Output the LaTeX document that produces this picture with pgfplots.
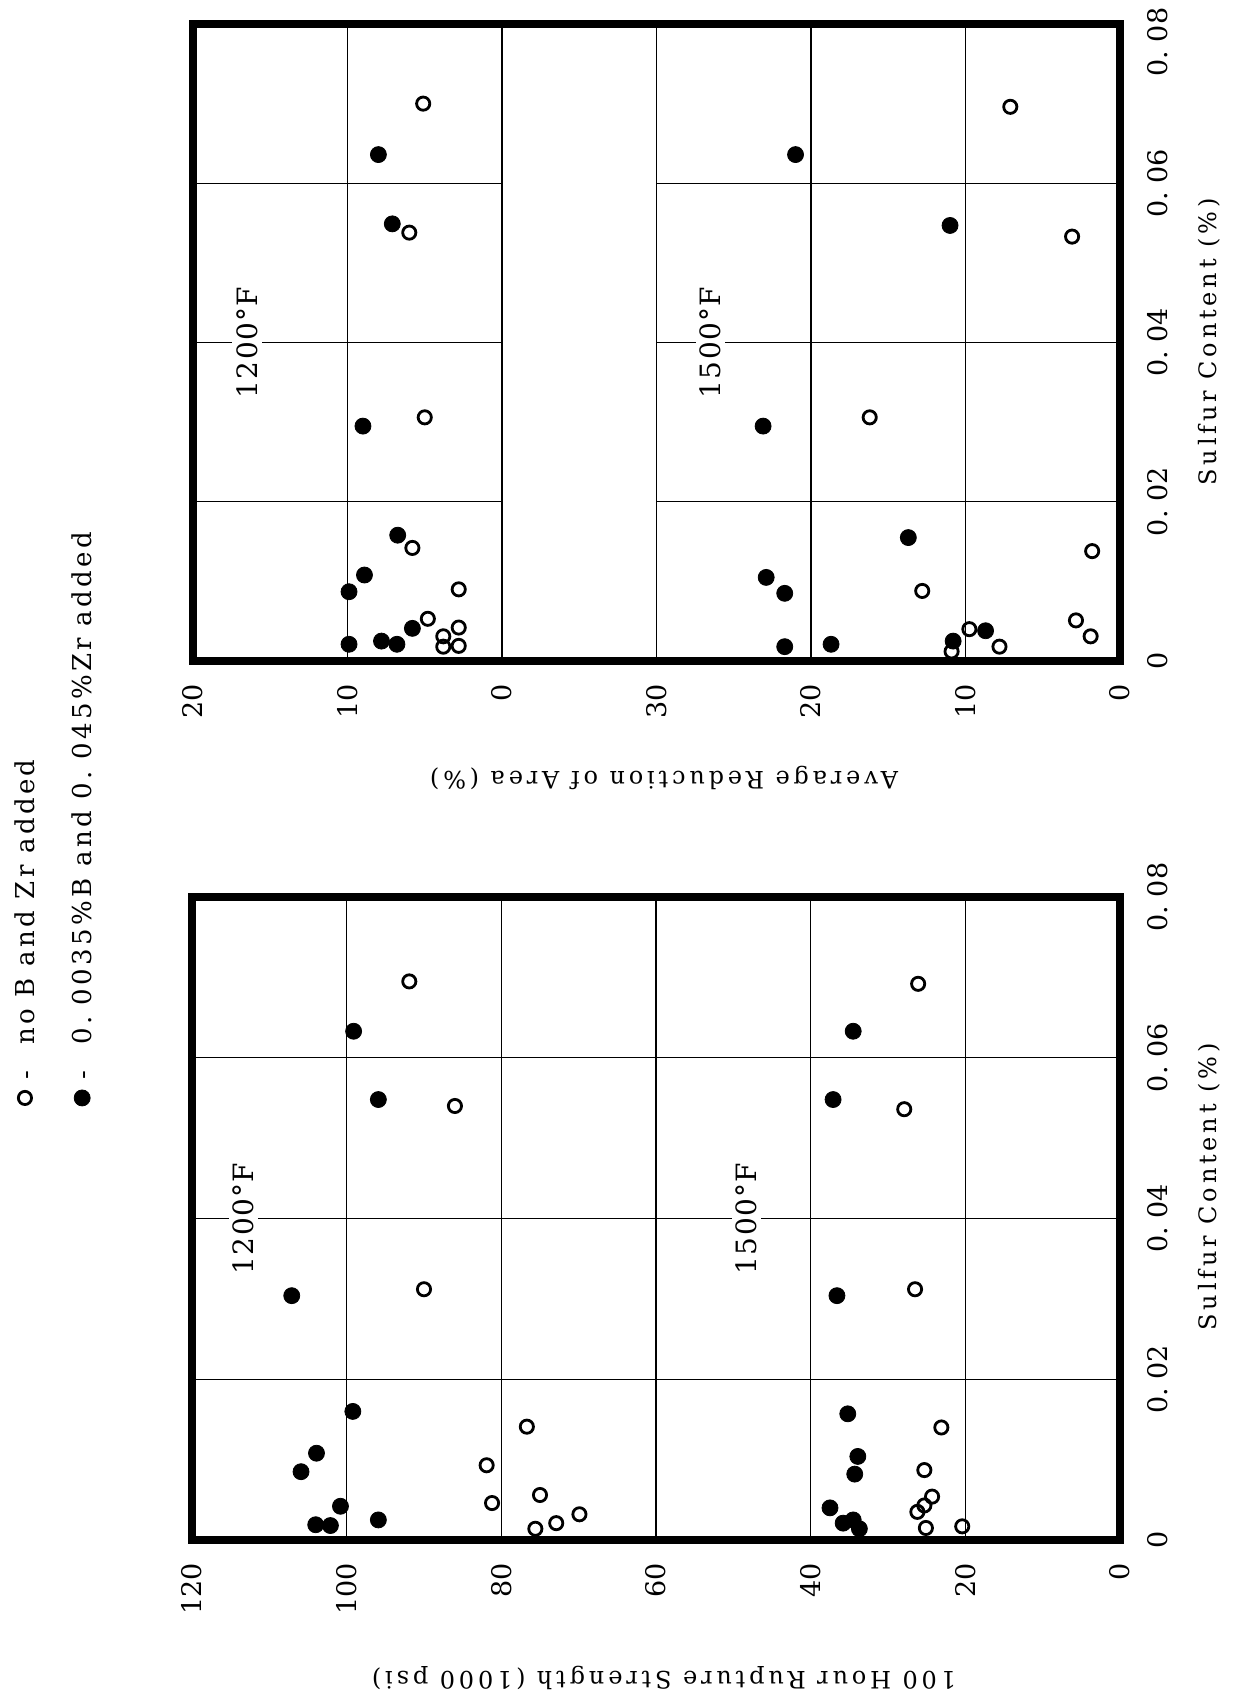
\documentclass[border=0pt]{standalone}
\usepackage{pgfplots}
\pgfplotsset{compat=1.18}
\usepackage{pgfplotstable}
\usepackage{fontspec}
\setmainfont{DejaVu Serif}
\newfontfamily\lblfont[LetterSpace=16]{DejaVu Serif}
\newfontfamily\legfont[LetterSpace=13]{DejaVu Serif}
\newfontfamily\tfont[LetterSpace=5]{DejaVu Serif}

% ---------- strength panel data (strength in 1000 psi, sulfur %) ----------
\pgfplotstableread{
st s
99.2 0.0160
103.9 0.0108
105.9 0.0085
100.8 0.0042
104.0 0.0019
102.1 0.0018
95.9 0.0025
99.1 0.0633
95.9 0.0548
107.1 0.0304
35.2 0.0157
33.9 0.0104
34.3 0.0082
37.5 0.0040
35.8 0.0021
34.5 0.0025
33.7 0.0014
34.5 0.0633
37.1 0.0548
36.6 0.0304
}\strFilled
\pgfplotstableread{
st s
76.7 0.0141
81.9 0.0093
81.2 0.0046
75.0 0.0056
69.9 0.0032
72.9 0.0021
75.6 0.0014
91.9 0.0695
86.0 0.0540
90.0 0.0312
23.1 0.0140
25.3 0.0087
24.3 0.0054
25.3 0.0043
26.2 0.0035
25.1 0.0015
20.4 0.0017
26.1 0.0692
27.9 0.0536
26.5 0.0312
}\strOpen
% ---------- reduction of area data (RA %, sulfur %) ----------
\pgfplotstableread{
ra s
6.75 0.0158
8.9 0.0108
9.9 0.0087
5.8 0.0041
7.8 0.0025
6.8 0.0021
9.9 0.0021
8.0 0.0636
7.1 0.0549
9.0 0.0295
}\raAFilled
\pgfplotstableread{
ra s
5.8 0.0142
2.8 0.0090
4.8 0.0053
2.8 0.0042
3.8 0.0031
3.8 0.0018
2.8 0.0019
5.1 0.0700
6.0 0.0538
5.0 0.0306
}\raAOpen
\pgfplotstableread{
ra s
13.7 0.0155
22.9 0.0105
21.7 0.0085
21.7 0.0018
18.7 0.0021
8.7 0.0038
10.8 0.0025
21.0 0.0636
11.0 0.0547
23.1 0.0295
}\raBFilled
\pgfplotstableread{
ra s
12.8 0.0088
1.8 0.0138
9.75 0.0040
7.8 0.0018
10.9 0.0012
2.85 0.0051
1.9 0.0031
7.1 0.0696
3.1 0.0533
16.2 0.0306
}\raBOpen

\pgfplotsset{
  myaxis/.style={
    scale only axis,
    x dir=reverse,
    ymin=0, ymax=0.08,
    ytick={0,0.02,0.04,0.06,0.08},
    scaled y ticks=false,
    scaled x ticks=false,
    yticklabel pos=right,
    yticklabel style={rotate=90, anchor=north, font=\fontsize{13.5}{14}\selectfont},
    yticklabel shift=10pt,
    xticklabel style={rotate=90, anchor=east, font=\fontsize{13.5}{14}\selectfont},
    xticklabel shift=8pt,
    major tick length=0pt,
    axis line style={line width=4pt, line cap=rect},
    grid style={black, line width=0.6pt},
    clip=false,
  },
  openmk/.style={only marks, mark=o, mark size=3.3pt, mark options={line width=1.4pt, black}},
  fillmk/.style={only marks, mark=*, mark size=4pt, mark options={black, fill=black}},
}
\tikzset{
  templbl/.style={rotate=90, fill=white, inner sep=2pt, font=\tfont\fontsize{14}{14}\selectfont},
  legtxt/.style={rotate=90, anchor=west, inner sep=0pt, font=\legfont\fontsize{13}{15}\selectfont},
}

\begin{document}
\begin{tikzpicture}
\path[use as bounding box] (0,0) rectangle (618pt,-851pt);

% ================= Reduction of area panel =================
\begin{axis}[myaxis,
  at={(328.25pt,-171.25pt)}, anchor=center,
  width=463.5pt, height=318.5pt,
  xmin=0, xmax=60,
  xtick={0,10,20,30,40,50,60},
  xticklabels={0,10,20,30,0,10,20},
  yticklabels={0,0.\ 02,0.\ 04,0.\ 06,{0.\ 08\rule{18pt}{0pt}}},
  xmajorgrids,
]
\draw[black, line width=0.6pt] (axis cs:0,0.02) -- (axis cs:30,0.02);
\draw[black, line width=0.6pt] (axis cs:0,0.04) -- (axis cs:30,0.04);
\draw[black, line width=0.6pt] (axis cs:0,0.06) -- (axis cs:30,0.06);
\draw[black, line width=0.6pt] (axis cs:40,0.02) -- (axis cs:60,0.02);
\draw[black, line width=0.6pt] (axis cs:40,0.04) -- (axis cs:60,0.04);
\draw[black, line width=0.6pt] (axis cs:40,0.06) -- (axis cs:60,0.06);
\addplot[openmk] table[x expr=\thisrow{ra}+40, y=s] {\raAOpen};
\addplot[fillmk] table[x expr=\thisrow{ra}+40, y=s] {\raAFilled};
\addplot[openmk] table[x=ra, y=s] {\raBOpen};
\addplot[fillmk] table[x=ra, y=s] {\raBFilled};
\node[templbl] at (axis cs:56.5,0.04) {1200°F};
\node[templbl] at (axis cs:26.5,0.04) {1500°F};
\end{axis}

% ================= Rupture strength panel =================
\begin{axis}[myaxis,
  at={(328pt,-609.25pt)}, anchor=center,
  width=464pt, height=321.5pt,
  xmin=0, xmax=120,
  xtick={0,20,40,60,80,100,120},
  xticklabels={0,20,40,60,80,100,120},
  yticklabels={0,0.\ 02,0.\ 04,0.\ 06,0.\ 08},
  xmajorgrids, ymajorgrids,
]
\addplot[openmk] table[x=st, y=s] {\strOpen};
\addplot[fillmk] table[x=st, y=s] {\strFilled};
% legend keys (drawn outside the plot area, as in the original)
\addplot[openmk, forget plot] coordinates {(141.6,0.0550)};
\addplot[fillmk, forget plot] coordinates {(134.2,0.0550)};
\node[templbl] at (axis cs:113.3,0.04) {1200°F};
\node[templbl] at (axis cs:48.3,0.04) {1500°F};
\end{axis}

% ================= legend text =================
\node[legtxt] at (12.5pt,-540pt) {-\hspace{13pt}no B and Zr added};
\node[legtxt] at (41pt,-540pt) {-\hspace{13pt}0.\ 0035\%B and 0.\ 045\%Zr added};

% ================= axis titles =================
\node[rotate=180, font=\lblfont\fontsize{12}{12}\selectfont] at (332pt,-839pt) {100 Hour Rupture Strength (1000 psi)};
\node[rotate=180, font=\lblfont\fontsize{12}{12}\selectfont] at (332pt,-389pt) {Average Reduction of Area (\%)};
\node[rotate=90, font=\lblfont\fontsize{12}{12}\selectfont] at (604.5pt,-593.5pt) {Sulfur Content (\%)};
\node[rotate=90, font=\lblfont\fontsize{12}{12}\selectfont] at (604.5pt,-171pt) {Sulfur Content (\%)};
\end{tikzpicture}
\end{document}
